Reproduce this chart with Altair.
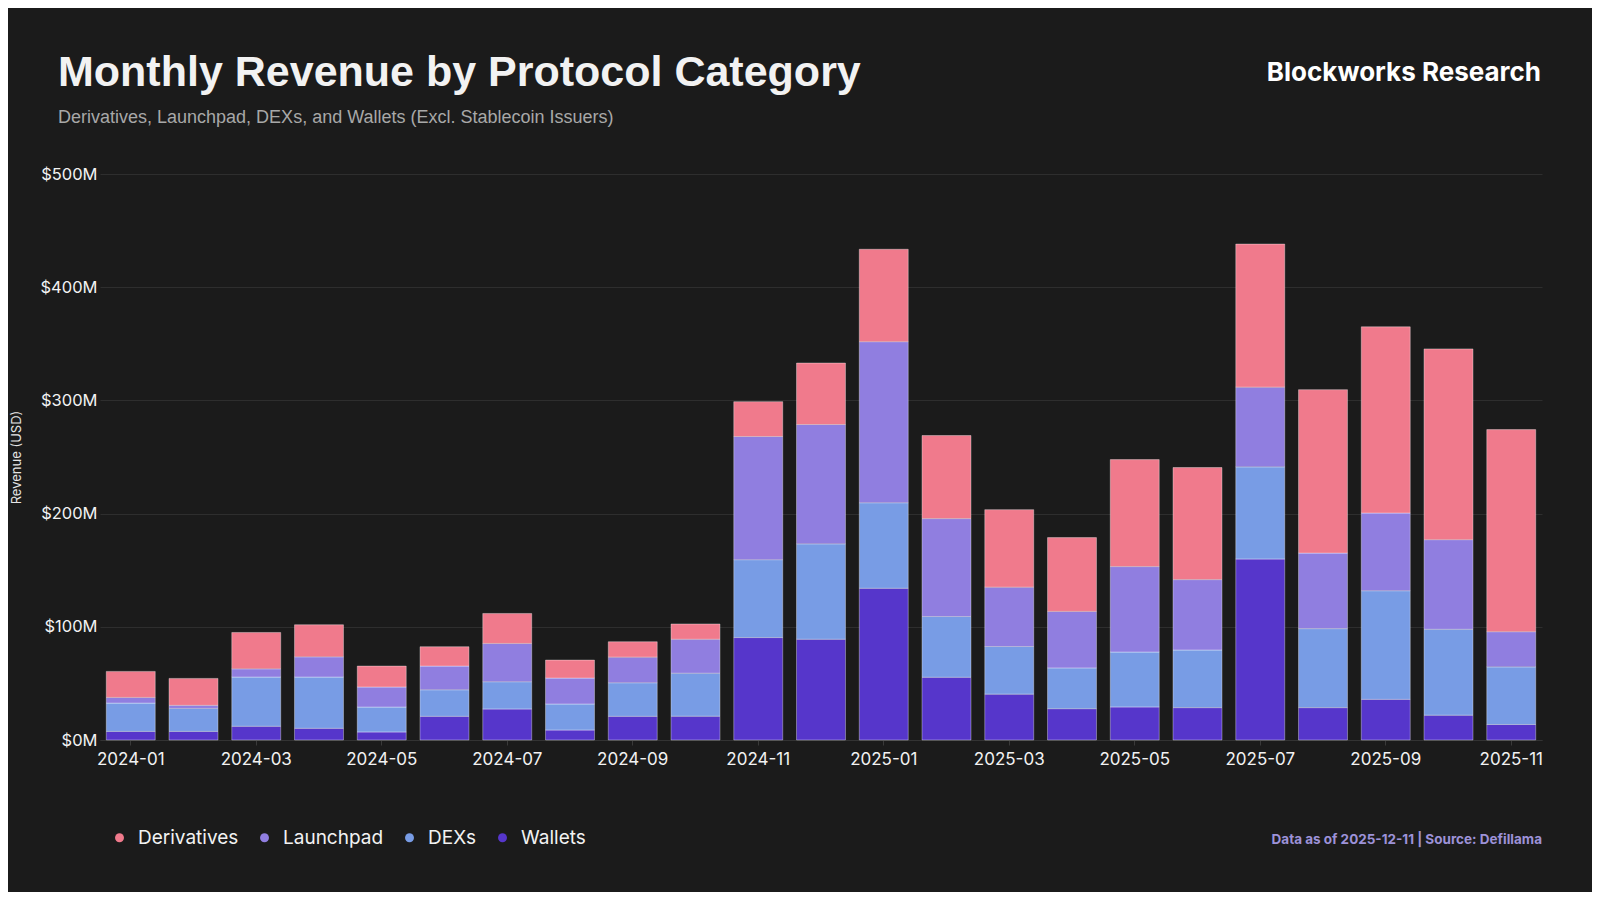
import altair as alt
import pandas as pd

months = ["2024-01", "2024-02", "2024-03", "2024-04", "2024-05", "2024-06", "2024-07",
          "2024-08", "2024-09", "2024-10", "2024-11", "2024-12", "2025-01", "2025-02",
          "2025-03", "2025-04", "2025-05", "2025-06", "2025-07", "2025-08", "2025-09",
          "2025-10", "2025-11"]

# Revenue in $M
wallets = [7.6, 7.6, 12.1, 10.3, 7.1, 20.9, 27.4, 8.8, 20.9, 21.0, 90.5, 89.0, 134.0,
           55.4, 40.5, 27.7, 29.2, 28.6, 159.9, 28.6, 35.9, 21.9, 13.7]
dexs = [25.0, 20.3, 43.5, 45.3, 22.0, 23.5, 24.1, 23.0, 29.7, 38.0, 68.8, 84.3, 75.6,
        53.7, 42.1, 36.0, 48.5, 50.9, 81.4, 69.8, 96.0, 75.9, 50.9]
launchpad = [5.0, 2.7, 7.3, 17.9, 17.7, 20.9, 33.8, 22.9, 22.6, 30.0, 108.8, 105.4, 142.3,
             86.5, 52.4, 49.9, 75.5, 62.2, 70.4, 66.7, 68.6, 79.2, 31.1]
derivatives = [23.0, 23.8, 32.1, 28.3, 18.5, 17.1, 26.5, 15.9, 13.6, 13.5, 30.8, 54.3, 81.6,
               73.4, 68.5, 65.2, 94.5, 99.0, 126.4, 144.4, 164.5, 168.5, 178.5]

categories = ["Derivatives", "Launchpad", "DEXs", "Wallets"]
colors = ["#F07A8C", "#907EE0", "#789CE5", "#5636CB"]
y_ticks = [0, 100, 200, 300, 400, 500]

title_text = "Monthly Revenue by Protocol Category"
subtitle_text = "Derivatives, Launchpad, DEXs, and Wallets (Excl. Stablecoin Issuers)"
brand_text = "Blockworks Research"
footer_text = "Data as of 2025-12-11 | Source: Defillama"

series = {"Wallets": wallets, "DEXs": dexs, "Launchpad": launchpad, "Derivatives": derivatives}
stack_rank = {"Wallets": 0, "DEXs": 1, "Launchpad": 2, "Derivatives": 3}
rows = []
for i, m in enumerate(months):
    for cat, vals in series.items():
        rows.append({"month": m, "category": cat, "value": vals[i], "rank": stack_rank[cat]})
df = pd.DataFrame(rows)

W, H = 1442, 566
BG = "#1b1b1b"

bars = alt.Chart(df).mark_bar(stroke="#ffffff", strokeOpacity=0.45, strokeWidth=0.8).encode(
    x=alt.X("month:N", sort=months,
            scale=alt.Scale(paddingInner=0.22, paddingOuter=0.1),
            axis=alt.Axis(title=None, values=months[::2], labelAngle=0,
                          labelFont="Inter", labelFontSize=17, labelColor="#f2f2f2",
                          labelPadding=6, tickSize=5, tickColor="#3a3a3a",
                          domainColor="#333333", domainWidth=1)),
    y=alt.Y("value:Q", stack="zero",
            scale=alt.Scale(domain=[0, 500], nice=False),
            axis=alt.Axis(title="Revenue (USD)", values=y_ticks,
                          labelExpr="'$' + datum.value + 'M'",
                          labelFont="Inter", labelFontSize=16.5, labelColor="#f2f2f2",
                          labelPadding=3, ticks=False, domain=False,
                          gridColor="#2e2e2e", gridWidth=1,
                          titleFont="Inter", titleFontSize=13, titleFontWeight="normal",
                          titleColor="#e6e6e6", titleAngle=-90, titleX=-84, titleY=H / 2,
                          titleAlign="center", titleBaseline="middle")),
    color=alt.Color("category:N",
                    scale=alt.Scale(domain=categories, range=colors),
                    legend=alt.Legend(title=None, orient="none", direction="horizontal",
                                      legendX=10, legendY=654, symbolType="circle",
                                      symbolSize=80, symbolStrokeWidth=0,
                                      labelFont="Inter", labelFontSize=19,
                                      labelColor="#f2f2f2", labelOffset=9,
                                      columnPadding=16, padding=0)),
    order=alt.Order("rank:Q", sort="ascending"),
)

def text_layer(txt, x, y, **kw):
    return alt.Chart(pd.DataFrame({"t": [txt]})).mark_text(**kw).encode(
        x=alt.value(x), y=alt.value(y), text="t:N")

title = text_layer(title_text, -42, -88, align="left", baseline="alphabetic",
                   font="Liberation Sans", fontSize=43, fontWeight="bold", color="#f2f2f2")
subtitle = text_layer(subtitle_text, -42, -51, align="left", baseline="alphabetic",
                      font="Liberation Sans", fontSize=18, color="#a8a8a8")
brand = text_layer(brand_text, W - 1, -93, align="right", baseline="alphabetic",
                   font="Inter", fontSize=26, fontWeight="bold", color="#ffffff")
footer = text_layer(footer_text, W, 670, align="right", baseline="alphabetic",
                    font="Inter", fontSize=13.5, fontWeight="bold", color="#9d92d8")

chart = alt.layer(bars, title, subtitle, brand, footer).properties(
    width=W, height=H, background=BG,
    padding={"left": 92, "top": 166, "right": 50, "bottom": 152},
    autosize=alt.AutoSizeParams(type="none"),
).configure_view(stroke=None)

chart.save("out.html", embed_options={"renderer": "svg", "actions": False})
